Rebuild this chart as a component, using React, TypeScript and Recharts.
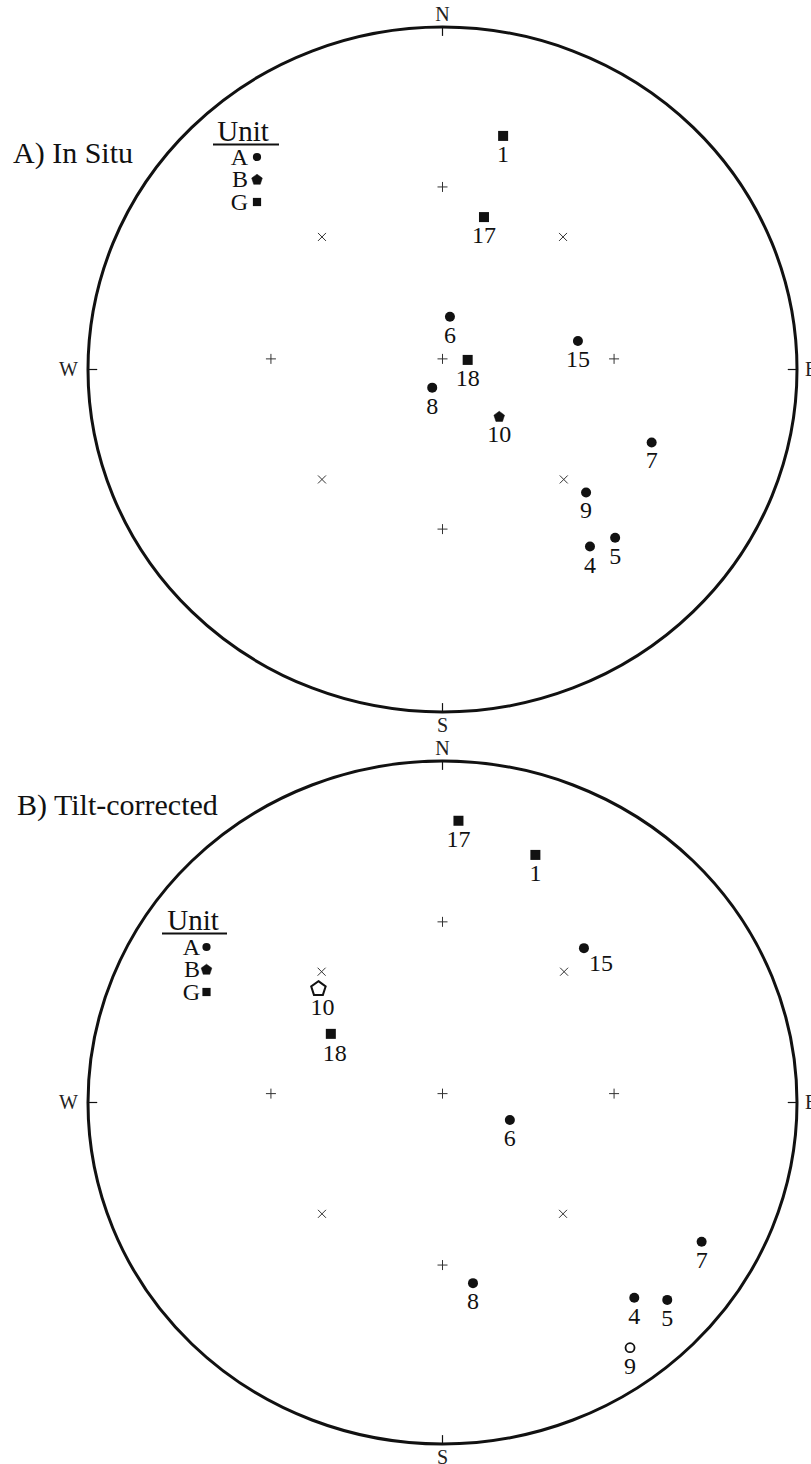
import React from "react"
import { ScatterChart, Scatter, XAxis, YAxis, ReferenceLine } from "recharts"

type Site = { site: string; x: number; y: number; open?: boolean }
type Pt = { x: number; y: number }

// directions: x = east, y = north, primitive = 1
const inSituA: Site[] = [
  { site: "6", x: 0.021, y: 0.154 },
  { site: "15", x: 0.382, y: 0.083 },
  { site: "8", x: -0.029, y: -0.053 },
  { site: "7", x: 0.59, y: -0.213 },
  { site: "9", x: 0.405, y: -0.359 },
  { site: "5", x: 0.487, y: -0.491 },
  { site: "4", x: 0.416, y: -0.517 },
]
const inSituB: Site[] = [{ site: "10", x: 0.16, y: -0.136 }]
const inSituG: Site[] = [
  { site: "1", x: 0.171, y: 0.682 },
  { site: "17", x: 0.117, y: 0.445 },
  { site: "18", x: 0.071, y: 0.028 },
]

const tiltA: Site[] = [
  { site: "15", x: 0.399, y: 0.452 },
  { site: "6", x: 0.19, y: -0.051 },
  { site: "7", x: 0.731, y: -0.408 },
  { site: "8", x: 0.086, y: -0.529 },
  { site: "4", x: 0.541, y: -0.572 },
  { site: "5", x: 0.634, y: -0.578 },
  { site: "9", x: 0.529, y: -0.718, open: true },
]
const tiltB: Site[] = [{ site: "10", x: -0.35, y: 0.336, open: true }]
const tiltG: Site[] = [
  { site: "17", x: 0.045, y: 0.825 },
  { site: "1", x: 0.262, y: 0.725 },
  { site: "18", x: -0.315, y: 0.201 },
]

// net grid marks
const inSituPlus: Pt[] = [
  { x: 0, y: 0.533 },
  { x: -0.484, y: 0.031 },
  { x: 0, y: 0.031 },
  { x: 0.484, y: 0.031 },
  { x: 0, y: -0.466 },
]
const inSituCross: Pt[] = [
  { x: -0.34, y: 0.387 },
  { x: 0.34, y: 0.387 },
  { x: -0.34, y: -0.321 },
  { x: 0.342, y: -0.321 },
]
const tiltPlus: Pt[] = [
  { x: 0, y: 0.529 },
  { x: -0.484, y: 0.026 },
  { x: 0, y: 0.026 },
  { x: 0.484, y: 0.026 },
  { x: 0, y: -0.476 },
]
const tiltCross: Pt[] = [
  { x: -0.341, y: 0.383 },
  { x: 0.343, y: 0.383 },
  { x: -0.34, y: -0.326 },
  { x: 0.34, y: -0.326 },
]

const cardinals = [
  { label: "N", x: 0, y: 1 },
  { label: "S", x: 0, y: -1 },
  { label: "W", x: -1, y: 0 },
  { label: "E", x: 1, y: 0 },
]
const units = ["A", "B", "G"]

const INK = "#111"
const FONT = "'Liberation Serif', 'Times New Roman', Times, 'DejaVu Serif', serif"
const W = 811
const MARGIN_X = { left: 88, right: 14 }

function Mark({ kind, cx, cy, open = false, scale = 1 }: { kind: string; cx: number; cy: number; open?: boolean; scale?: number }) {
  if (kind === "A") {
    return open ? (
      <circle cx={cx} cy={cy} r={4.5 * scale} fill="#fff" stroke={INK} strokeWidth={1.8} />
    ) : (
      <circle cx={cx} cy={cy} r={5 * scale} fill={INK} />
    )
  }
  if (kind === "G") {
    const s = 10 * scale
    return <rect x={cx - s / 2} y={cy - s / 2} width={s} height={s} fill={INK} />
  }
  const r = (open ? 7.6 : 5.6) * scale
  const pts = [0, 1, 2, 3, 4]
    .map((i) => {
      const a = ((-90 + 72 * i) * Math.PI) / 180
      return `${cx + r * Math.cos(a)},${cy + r * Math.sin(a) + (open ? 1 : 0.8)}`
    })
    .join(" ")
  return <polygon points={pts} fill={open ? "#fff" : INK} stroke={INK} strokeWidth={open ? 2 : 0.5} />
}

const labelNudge: Record<string, [number, number]> = {
  "tilt-15": [17, -3],
  "tilt-10": [4, 1],
  "tilt-18": [4, 1],
}

const siteShape = (kind: string, panel: string) => (props: any) => {
  const { cx, cy, payload } = props
  const [dx, dy] = labelNudge[`${panel}-${payload.site}`] ?? [0, 0]
  return (
    <g>
      <Mark kind={kind} cx={cx} cy={cy} open={payload.open} />
      <text x={cx + dx} y={cy + 26 + dy} textAnchor="middle" style={{ fontFamily: FONT, fontSize: 24 }} fill={INK}>
        {payload.site}
      </text>
    </g>
  )
}

const plusShape = (props: any) => {
  const { cx, cy } = props
  return (
    <g stroke="#333" strokeWidth={1}>
      <line x1={cx - 5} x2={cx + 5} y1={cy} y2={cy} />
      <line x1={cx} x2={cx} y1={cy - 5} y2={cy + 5} />
    </g>
  )
}

const crossShape = (props: any) => {
  const { cx, cy } = props
  return (
    <g stroke="#333" strokeWidth={1}>
      <line x1={cx - 4} x2={cx + 4} y1={cy - 4} y2={cy + 4} />
      <line x1={cx - 4} x2={cx + 4} y1={cy + 4} y2={cy - 4} />
    </g>
  )
}

const cardinalShape = (props: any) => {
  const { cx, cy, payload } = props
  const pos: Record<string, [number, number, string]> = {
    N: [0, -6, "middle"],
    S: [0, 20, "middle"],
    W: [-10, 6, "end"],
    E: [8, 6, "start"],
  }
  const [dx, dy, anchor] = pos[payload.label]
  return (
    <text x={cx + dx} y={cy + dy} textAnchor={anchor as any} style={{ fontFamily: FONT, fontSize: 20 }} fill="#222">
      {payload.label}
    </text>
  )
}

function Stereonet({ top, height, marginTop, marginBottom, a, b, g, plus, cross, panel }: any) {
  const rx = (W - MARGIN_X.left - MARGIN_X.right) / 2
  const ry = (height - marginTop - marginBottom) / 2
  const frameShape = (props: any) => (
    <ellipse cx={props.cx} cy={props.cy} rx={rx} ry={ry} fill="none" stroke={INK} strokeWidth={3} />
  )
  const t = 0.026
  return (
    <div style={{ position: "absolute", left: 0, top, width: W, height }}>
      <ScatterChart width={W} height={height} margin={{ top: marginTop, bottom: marginBottom, ...MARGIN_X }} style={{ overflow: "visible" }}>
        <XAxis type="number" dataKey="x" domain={[-1, 1]} hide />
        <YAxis type="number" dataKey="y" domain={[-1, 1]} hide />
        <Scatter data={[{ x: 0, y: 0 }]} shape={frameShape} isAnimationActive={false} />
        <ReferenceLine segment={[{ x: 0, y: 1 }, { x: 0, y: 1 - t }]} stroke={INK} strokeWidth={1.2} />
        <ReferenceLine segment={[{ x: 0, y: -1 }, { x: 0, y: -1 + t }]} stroke={INK} strokeWidth={1.2} />
        <ReferenceLine segment={[{ x: -1, y: 0 }, { x: -1 + t, y: 0 }]} stroke={INK} strokeWidth={1.2} />
        <ReferenceLine segment={[{ x: 1, y: 0 }, { x: 1 - t, y: 0 }]} stroke={INK} strokeWidth={1.2} />
        <Scatter data={plus} shape={plusShape} isAnimationActive={false} />
        <Scatter data={cross} shape={crossShape} isAnimationActive={false} />
        <Scatter data={a} shape={siteShape("A", panel)} isAnimationActive={false} />
        <Scatter data={b} shape={siteShape("B", panel)} isAnimationActive={false} />
        <Scatter data={g} shape={siteShape("G", panel)} isAnimationActive={false} />
        <Scatter data={cardinals} shape={cardinalShape} isAnimationActive={false} />
      </ScatterChart>
    </div>
  )
}

function UnitKey({ cx, baseline, lineX1, lineX2, letterRight, symX, rows }: any) {
  return (
    <g fill={INK} style={{ fontFamily: FONT }}>
      <text x={cx} y={baseline} textAnchor="middle" style={{ fontFamily: FONT, fontSize: 29 }}>
        Unit
      </text>
      <line x1={lineX1} x2={lineX2} y1={baseline + 3.5} y2={baseline + 3.5} stroke={INK} strokeWidth={2} />
      {units.map((u, i) => (
        <g key={u}>
          <text x={letterRight} y={rows[i]} textAnchor="end" style={{ fontFamily: FONT, fontSize: 24 }}>
            {u}
          </text>
          <Mark kind={u} cx={symX} cy={rows[i] - 8} scale={u === "B" ? 1 : 0.82} />
        </g>
      ))}
    </g>
  )
}

export default function App() {
  return (
    <div style={{ position: "absolute", left: 0, top: 0, width: W, height: 1464, overflow: "hidden", background: "#fff" }}>
      <Stereonet top={0} height={735} marginTop={27} marginBottom={23} a={inSituA} b={inSituB} g={inSituG} plus={inSituPlus} cross={inSituCross} panel="insitu" />
      <Stereonet top={740} height={724} marginTop={21} marginBottom={20} a={tiltA} b={tiltB} g={tiltG} plus={tiltPlus} cross={tiltCross} panel="tilt" />
      <svg width={W} height={1464} style={{ position: "absolute", left: 0, top: 0, pointerEvents: "none" }}>
        <text x={13} y={163} fill={INK} style={{ fontFamily: FONT, fontSize: 30 }}>
          A) In Situ
        </text>
        <text x={17} y={815} fill={INK} style={{ fontFamily: FONT, fontSize: 30 }}>
          B) Tilt-corrected
        </text>
        <UnitKey cx={243} baseline={141} lineX1={213} lineX2={279} letterRight={248} symX={257} rows={[165, 187, 210]} />
        <UnitKey cx={193} baseline={930} lineX1={162} lineX2={227} letterRight={200} symX={206.5} rows={[955, 977, 1000]} />
      </svg>
    </div>
  )
}
